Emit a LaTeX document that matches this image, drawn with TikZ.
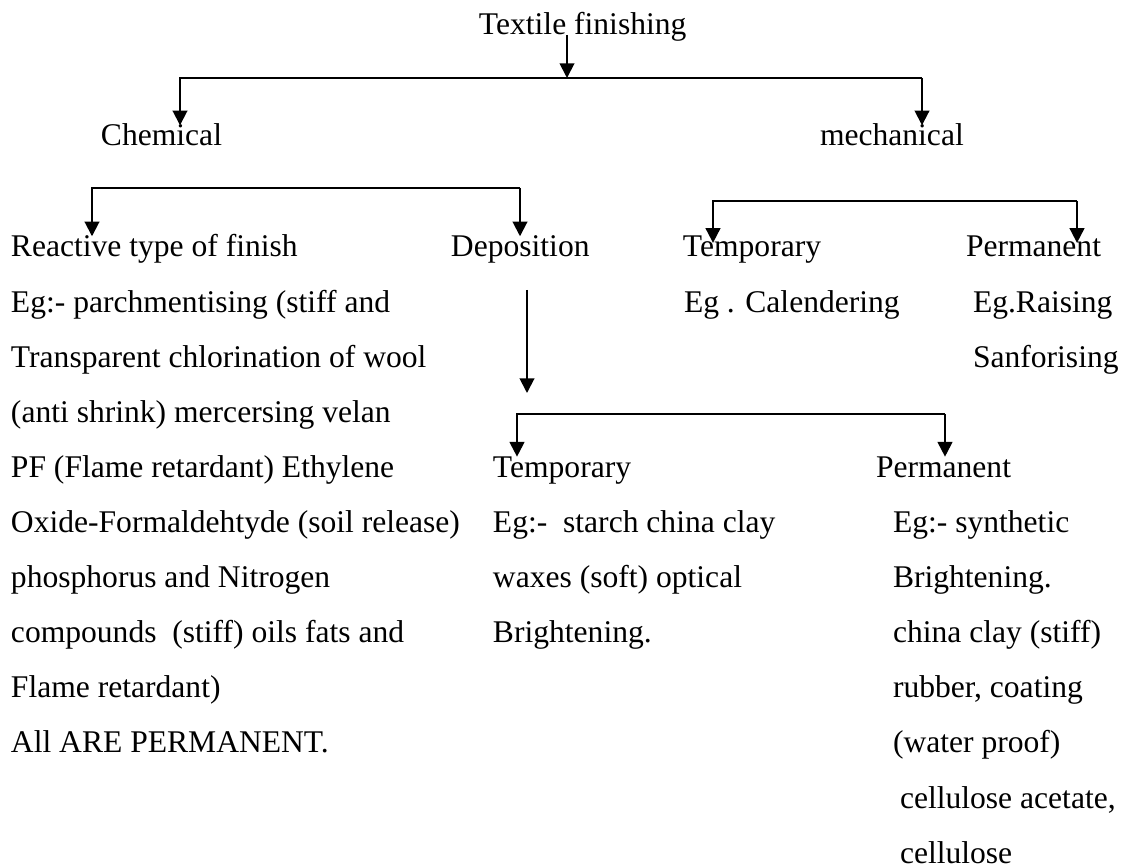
\documentclass[tikz,border=0pt]{standalone}
\usepackage{fontspec}
\setmainfont{Liberation Serif}
\usetikzlibrary{arrows.meta, positioning}
\tikzset{txt/.style={anchor=base west, inner sep=0pt, text height=0.75em, text depth=0.25em, font=\fontsize{12}{14}\selectfont}}

\begin{document}
\begin{tikzpicture}[x=0.38pt, y=-0.38pt, >={Triangle[length=5.6pt, width=5.6pt]}, line width=0.75pt]
\useasboundingbox (0,0) rectangle (1122,867);
\node[txt] (root) at (478,35) {Textile finishing};
\node[txt] (chem) at (100,146) {Chemical};
\node[txt] (mech) at (819,146) {mechanical};
\node[txt] (react0) at (10,257) {Reactive type of finish};
\node[txt] (react1) at (10,312.1) {Eg:- parchmentising (stiff and};
\node[txt] (react2) at (10,367.2) {Transparent chlorination of wool};
\node[txt] (react3) at (10,422.3) {(anti shrink) mercersing velan};
\node[txt] (react4) at (10,477.4) {PF (Flame retardant) Ethylene};
\node[txt] (react5) at (10,532.5) {Oxide-Formaldehtyde (soil release)};
\node[txt] (react6) at (10,587.6) {phosphorus and Nitrogen};
\node[txt] (react7) at (10,642.7) {compounds\ \ (stiff) oils fats and};
\node[txt] (react8) at (10,697.8) {Flame retardant)};
\node[txt] (react9) at (10,752.9) {All ARE PERMANENT.};
\node[txt] (depo) at (450,257) {Deposition};
\node[txt] (mtemp) at (682,257) {Temporary};
\node[txt] (mtemp1) at (683,312.1) {Eg . Calendering};
\node[txt] (mperm) at (965,257) {Permanent};
\node[txt] (mperm1) at (972,312.1) {Eg.Raising};
\node[txt] (mperm2) at (972,367.2) {Sanforising};
\node[txt] (dtemp) at (492,477.4) {Temporary};
\node[txt] (dtemp1) at (492,532.5) {Eg:-\ \ starch china clay};
\node[txt] (dtemp2) at (492,587.6) {waxes (soft) optical};
\node[txt] (dtemp3) at (492,642.7) {Brightening.};
\node[txt] (dperm) at (875,477.4) {Permanent};
\node[txt] (dperm1) at (892,532.5) {Eg:- synthetic};
\node[txt] (dperm2) at (892,587.6) {Brightening.};
\node[txt] (dperm3) at (892,642.7) {china clay (stiff)};
\node[txt] (dperm4) at (892,697.8) {rubber, coating};
\node[txt] (dperm5) at (892,752.9) {(water proof)};
\node[txt] (dperm6) at (899,808) {cellulose acetate,};
\node[txt] (dperm7) at (899,863.1) {cellulose};
\coordinate (top) at (567,78);
\coordinate (topL) at (180,78);
\coordinate (topR) at (922,78);
\coordinate (chemL) at (92,188);
\coordinate (chemR) at (520,188);
\coordinate (mechL) at (713,201);
\coordinate (mechR) at (1077,201);
\coordinate (depA) at (527,290);
\coordinate (depB) at (527,393);
\coordinate (depL) at (517,414);
\coordinate (depR) at (945,414);
\draw[->] (root.base -| top) -- (top);
\draw[->] (topR) -| (chem.north -| topL);
\draw[->] (topR) -- (mech.north -| topR);
\draw[->] (chemR) -| (react0.north -| chemL);
\draw[->] (chemR) -- (depo.north -| chemR);
\draw[->, shorten >=-2.5pt] (mechR) -| (mtemp.north -| mechL);
\draw[->, shorten >=-2.5pt] (mechR) -- (mperm.north -| mechR);
\draw[->] (depA) -- (depB);
\draw[->] (depR) -| (dtemp.north -| depL);
\draw[->] (depR) -- (dperm.north -| depR);
\end{tikzpicture}
\end{document}
